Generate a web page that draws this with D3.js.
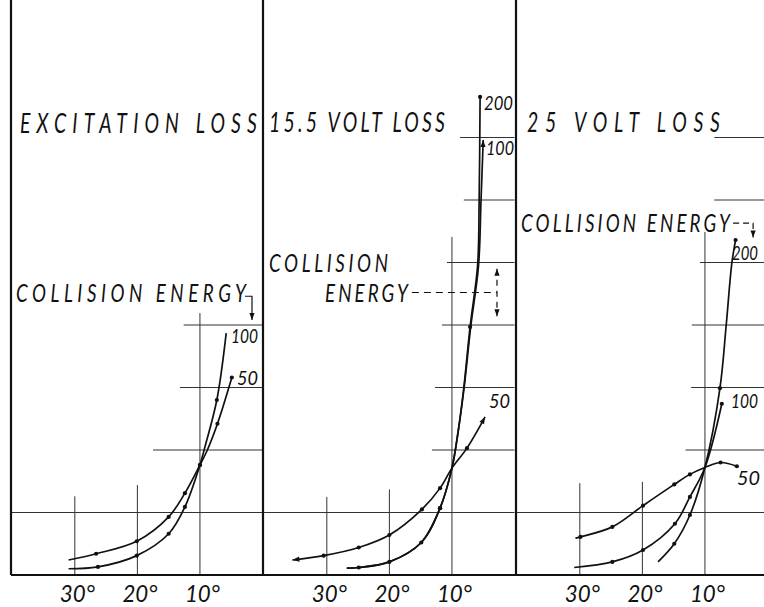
<!DOCTYPE html>
<html>
<head>
<meta charset="utf-8">
<script src="https://cdn.jsdelivr.net/npm/d3@7"></script>
<style>
  body { margin: 0; background: #fff; }
  svg { display: block; background: #fff; }
  .grid { stroke: #333; stroke-width: 1; fill: none; }
  .frame { stroke: #111; stroke-width: 2.2; fill: none; }
  .curve { fill: none; stroke: #111; stroke-width: 1.7; }
  .note { fill: none; stroke: #111; stroke-width: 1.2; }
  text { font-family: Lato, "Liberation Sans", sans-serif;
         font-style: italic; fill: #111; }
</style>
</head>
<body>
<div id="chart"></div>
<script>

// Values: scattering angle (deg) against intensity in grid units.
// Each point is [angle, units, 1 if it is a plotted measurement point]
const angleTicks = [30, 20, 10];
const panelTitles = ["EXCITATION LOSS", "15.5 VOLT LOSS", "25 VOLT LOSS"];

const excitation100 = [[31.0,0.10,0],[26.3,0.13,1],[20.1,0.31,1],[15.0,0.66,1],[12.4,1.09,1],[10.0,1.76,1],[9.2,2.05,0],[7.3,2.80,1],[5.8,3.87,0]];
const excitation50  = [[31.0,0.24,0],[26.6,0.34,1],[20.1,0.54,1],[15.0,0.93,1],[12.4,1.31,1],[10.0,1.76,1],[8.9,1.98,0],[7.2,2.42,1],[4.9,3.16,1]];

const volt155_200 = [[26.8,0.11,0],[24.9,0.12,1],[20.0,0.21,1],[14.9,0.52,1],[11.9,1.07,1],[10.0,1.71,0],[9.0,2.30,0],[8.1,3.00,0],[7.1,3.97,1],[5.9,4.95,0],[5.65,6.00,0],[5.5,7.65,1]];
const volt155_100 = [[26.8,0.11,0],[24.9,0.12,0],[20.0,0.21,0],[14.9,0.52,0],[11.9,1.07,1],[10.0,1.71,0],[9.0,2.30,0],[8.05,3.00,0],[7.0,3.97,0],[5.75,4.95,0],[5.35,6.00,0],[5.0,6.96,0]];
const volt155_50  = [[35.5,0.24,0],[30.5,0.31,1],[24.9,0.44,1],[20.0,0.64,1],[14.8,1.05,1],[11.9,1.39,1],[10.0,1.71,0],[7.6,2.03,1],[4.7,2.53,0]];

const volt25_200 = [[17.5,0.21,0],[14.9,0.50,1],[12.4,0.96,1],[10.0,1.72,0],[7.6,2.99,1],[6.6,4.00,0],[5.7,4.99,0],[5.1,5.36,1]];
const volt25_100 = [[30.9,0.12,0],[24.8,0.21,1],[19.9,0.40,1],[14.8,0.82,1],[12.4,1.25,1],[10.0,1.72,0],[7.3,2.74,1]];
const volt25_50  = [[30.7,0.59,0],[29.9,0.61,1],[24.8,0.77,1],[19.9,1.11,1],[14.9,1.45,1],[12.4,1.61,1],[10.0,1.72,0],[7.5,1.80,1],[4.9,1.74,1]];

// Grid: horizontal lines at 1,2,3... units, each starting at the given angle
const hGridFrom = [
    [40.2, 17.5, 13.2, 12.6],
    [40.2, 13.2, 12.7, 11.6, 10.8, 8.1, 8.7],
    [40.2, 13.1, 12.2, 12.1, 10.8, 8.5, 8.5]
];
// vertical lines at 30, 20, 10 degrees, reaching up to these units
const vGridTop = [
    [1.26, 1.44, 4.19],
    [1.25, 1.37, 5.41],
    [1.47, 1.49, 5.49]
];

const panelSeries = [
    [{name: "100", pts: excitation100}, {name: "50", pts: excitation50}],
    [{name: "200", pts: volt155_200}, {name: "100", pts: volt155_100, arrowEnd: true},
     {name: "50", pts: volt155_50, arrowStart: true, arrowEnd: true}],
    [{name: "200", pts: volt25_200}, {name: "100", pts: volt25_100}, {name: "50", pts: volt25_50}]
];

// ---- layout
const width = 764, height = 607;
const axisY = 575;
const panelLeft = [11, 263, 516];
const panelWidth = 251.5;
const squeeze = 0.72;   // narrow hand lettering

const titleLayout = [{x: 20, y: 133, w: 237}, {x: 269, y: 132, w: 176}, {x: 527, y: 132, w: 193}];
const energyLayout = [
    [{t: "COLLISION ENERGY", x: 16, y: 302, w: 230}],
    [{t: "COLLISION", x: 269, y: 272, w: 119}, {t: "ENERGY", x: 325, y: 302, w: 83}],
    [{t: "COLLISION ENERGY", x: 521, y: 232, w: 209}]
];
const curveLabelLayout = [
    [{x: 231, y: 343, w: 27}, {x: 237, y: 385, w: 21}],
    [{x: 484, y: 110, w: 29}, {x: 486, y: 155, w: 28}, {x: 489, y: 408, w: 21}],
    [{x: 732, y: 260, w: 26}, {x: 731, y: 408, w: 27}, {x: 737, y: 485, w: 23}]
];

const svg = d3.select("#chart").append("svg")
    .attr("width", width)
    .attr("height", height);

svg.append("defs").append("marker")
    .attr("id", "arrow")
    .attr("markerUnits", "userSpaceOnUse")
    .attr("markerWidth", 10).attr("markerHeight", 10)
    .attr("viewBox", "-8 -4 10 8")
    .attr("refX", 0).attr("refY", 0)
    .attr("orient", "auto-start-reverse")
  .append("path")
    .attr("d", "M-7,-2.6L0,0L-7,2.6Z")
    .attr("fill", "#111");

const y = d3.scaleLinear().domain([0, 9.2]).range([axisY, 0]);

function makeX(i){
    return d3.scaleLinear().domain([40.2, 0]).range([panelLeft[i], panelLeft[i] + panelWidth]);
}

// narrow glyphs, spread out to the measured width
function lettering(parent, str, x, yPos, w, size){
    parent.append("text")
        .attr("transform", "translate(" + x + "," + yPos + ") scale(" + squeeze + ",1)")
        .attr("textLength", w / squeeze)
        .attr("lengthAdjust", "spacing")
        .style("font-size", size + "px")
        .text(str);
}

panelSeries.forEach(function(series, i){

    var x = makeX(i);
    var g = svg.append("g").attr("class", "panel");

    // horizontal grid lines
    g.selectAll("line.h").data(hGridFrom[i]).enter().append("line")
        .attr("class", "grid")
        .attr("x1", d => x(d)).attr("x2", x(0))
        .attr("y1", (d, k) => y(k + 1)).attr("y2", (d, k) => y(k + 1));

    // vertical grid lines
    g.selectAll("line.v").data(angleTicks).enter().append("line")
        .attr("class", "grid")
        .attr("x1", d => x(d)).attr("x2", d => x(d))
        .attr("y1", y(0)).attr("y2", (d, k) => y(vGridTop[i][k]));

    // angle axis (labels only)
    var axis = d3.axisBottom(x)
        .tickValues(angleTicks)
        .tickSize(0)
        .tickPadding(10)
        .tickFormat(d => d + "°");
    var ax = g.append("g")
        .attr("transform", "translate(0," + axisY + ")")
        .call(axis);
    ax.select(".domain").remove();
    ax.selectAll("text")
        .attr("font-family", null)
        .style("font-size", "24px")
        .attr("dx", 2)
        .attr("textLength", 35)
        .attr("lengthAdjust", "spacingAndGlyphs")
        .attr("fill", "#111");

    // curves
    var line = d3.line()
        .x(d => x(d[0]))
        .y(d => y(d[1]))
        .curve(d3.curveCatmullRom.alpha(0.5));

    series.forEach(function(s, k){
        g.append("path")
            .attr("class", "curve")
            .attr("d", line(s.pts))
            .attr("marker-start", s.arrowStart ? "url(#arrow)" : null)
            .attr("marker-end", s.arrowEnd ? "url(#arrow)" : null);

        g.selectAll(null).data(s.pts.filter(d => d[2])).enter().append("circle")
            .attr("cx", d => x(d[0]))
            .attr("cy", d => y(d[1]))
            .attr("r", 2.1)
            .attr("fill", "#111");

        var lab = curveLabelLayout[i][k];
        g.append("text")
            .attr("x", lab.x).attr("y", lab.y)
            .attr("textLength", lab.w)
            .attr("lengthAdjust", "spacingAndGlyphs")
            .style("font-size", "19px")
            .text(s.name);
    });

    // titles
    var t = titleLayout[i];
    lettering(g, panelTitles[i], t.x, t.y, t.w, 27);

    energyLayout[i].forEach(function(e){
        lettering(g, e.t, e.x, e.y, e.w, 26);
    });
});

// collision energy pointers
var x1 = makeX(0), x2 = makeX(1), x3 = makeX(2);

svg.append("path").attr("class", "note")
    .attr("d", "M" + x1(2.8) + "," + y(4.46) + "H" + x1(1.68) + "V" + y(4.08))
    .attr("marker-end", "url(#arrow)");

svg.append("path").attr("class", "note")
    .attr("stroke-dasharray", "7,5")
    .attr("d", "M" + x2(16.4) + "," + y(4.52) + "H" + x2(2.8));
svg.append("path").attr("class", "note")
    .attr("stroke-dasharray", "6,5")
    .attr("d", "M" + x2(2.8) + "," + y(4.9) + "V" + y(4.14))
    .attr("marker-start", "url(#arrow)")
    .attr("marker-end", "url(#arrow)");

svg.append("path").attr("class", "note")
    .attr("stroke-dasharray", "6,4")
    .attr("d", "M" + x3(5.5) + "," + y(5.63) + "H" + x3(2.3) + "V" + y(5.4))
    .attr("marker-end", "url(#arrow)");

// frame: panel borders and the base line
svg.selectAll("line.border").data(panelLeft).enter().append("line")
    .attr("class", "frame")
    .attr("x1", d => d).attr("x2", d => d)
    .attr("y1", 0).attr("y2", axisY);

svg.append("line")
    .attr("class", "frame")
    .attr("stroke-width", 2.6)
    .attr("x1", panelLeft[0]).attr("x2", width)
    .attr("y1", axisY).attr("y2", axisY);

</script>
</body>
</html>
